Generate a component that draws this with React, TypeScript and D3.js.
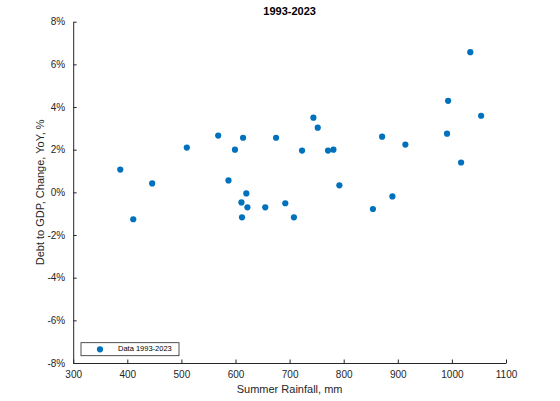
import { useEffect, useRef } from 'react';
import * as d3 from 'd3';

// ─── Data ───────────────────────────────────────────────────

const rainfall = [
  387, 411, 446, 510, 568, 587, 599, 611, 612, 614, 620, 622, 655, 675, 692, 708,
  723, 744, 752, 771, 781, 792, 854, 871, 890, 914, 991, 993, 1017, 1034, 1054,
];
const debtChange = [
  1.07, -1.26, 0.42, 2.1, 2.66, 0.56, 2.0, -0.47, -1.17, 2.56, -0.05, -0.7, -0.7, 2.56, -0.51, -1.17,
  1.96, 3.5, 3.03, 1.96, 2.0, 0.33, -0.78, 2.61, -0.19, 2.24, 2.75, 4.29, 1.4, 6.57, 3.59,
];
const xTicks = [300, 400, 500, 600, 700, 800, 900, 1000, 1100];
const yTicks = [-8, -6, -4, -2, 0, 2, 4, 6, 8];

const W = 560;
const H = 401;
const MARGIN = { top: 21.7, right: 54, bottom: 38, left: 73.2 };
const INK = '#262626';
const DOT = '#0072BD';
const FONT = '"Liberation Sans", Arial, Helvetica, sans-serif';

export default function App() {
  const svgRef = useRef<SVGSVGElement>(null);

  useEffect(() => {
    if (!svgRef.current) return;
    const svg = d3.select(svgRef.current);
    svg.selectAll('*').remove();

    const innerW = W - MARGIN.left - MARGIN.right;
    const innerH = H - MARGIN.top - MARGIN.bottom;

    const x = d3.scaleLinear().domain([300, 1100]).range([0, innerW]);
    const y = d3.scaleLinear().domain([-8, 8]).range([innerH, 0]);

    const g = svg.append('g')
      .attr('transform', `translate(${MARGIN.left},${MARGIN.top})`);

    // Axes (ticks point inward, MATLAB style)
    g.append('g').attr('transform', `translate(0,${innerH})`)
      .call(d3.axisBottom(x).tickValues(xTicks).tickSize(-3.5).tickSizeOuter(0).tickPadding(8)
        .tickFormat(d3.format('d')))
      .call((sel) => sel.select('.domain').attr('stroke', INK))
      .call((sel) => sel.selectAll('line').attr('stroke', INK))
      .call((sel) => sel.selectAll('text')
        .attr('fill', INK).attr('font-size', '10px').attr('font-family', FONT));

    g.append('g')
      .call(d3.axisLeft(y).tickValues(yTicks).tickSize(-3.5).tickSizeOuter(0).tickPadding(8)
        .tickFormat((d) => `${d}%`))
      .call((sel) => sel.select('.domain').attr('stroke', INK))
      .call((sel) => sel.selectAll('line').attr('stroke', INK))
      .call((sel) => sel.selectAll('text')
        .attr('fill', INK).attr('font-size', '10px').attr('font-family', FONT));

    // Points
    g.append('g').selectAll('circle')
      .data(rainfall.map((r, i) => ({ r, v: debtChange[i] })))
      .join('circle')
      .attr('cx', (d) => x(d.r))
      .attr('cy', (d) => y(d.v))
      .attr('r', 3.1)
      .attr('fill', DOT);

    // Title
    svg.append('text')
      .attr('x', MARGIN.left + innerW / 2).attr('y', 15)
      .attr('text-anchor', 'middle')
      .attr('font-family', FONT).attr('font-size', '11px').attr('font-weight', 'bold')
      .attr('fill', '#000')
      .text('1993-2023');

    // Axis labels
    svg.append('text')
      .attr('x', MARGIN.left + innerW / 2).attr('y', 393)
      .attr('text-anchor', 'middle')
      .attr('font-family', FONT).attr('font-size', '11px')
      .attr('fill', INK)
      .text('Summer Rainfall, mm');

    svg.append('text')
      .attr('transform', `translate(44,${MARGIN.top + innerH / 2}) rotate(-90)`)
      .attr('text-anchor', 'middle')
      .attr('font-family', FONT).attr('font-size', '11px')
      .attr('fill', INK)
      .text('Debt to GDP, Change, YoY, %');

    // Legend
    const legend = svg.append('g').attr('transform', 'translate(81,342.7)');
    legend.append('rect')
      .attr('width', 98).attr('height', 13)
      .attr('fill', '#fff').attr('stroke', INK).attr('stroke-width', 0.8);
    legend.append('circle')
      .attr('cx', 19).attr('cy', 6.6).attr('r', 3.1).attr('fill', DOT);
    legend.append('text')
      .attr('x', 37).attr('y', 6.8)
      .attr('dominant-baseline', 'middle')
      .attr('font-family', FONT).attr('font-size', '7.5px')
      .attr('fill', '#000')
      .text('Data 1993-2023');
  }, []);

  return (
    <div style={{ position: 'fixed', left: 0, top: 0, width: W, height: H, background: '#fff' }}>
      <svg ref={svgRef} width={W} height={H} style={{ display: 'block' }} />
    </div>
  );
}
